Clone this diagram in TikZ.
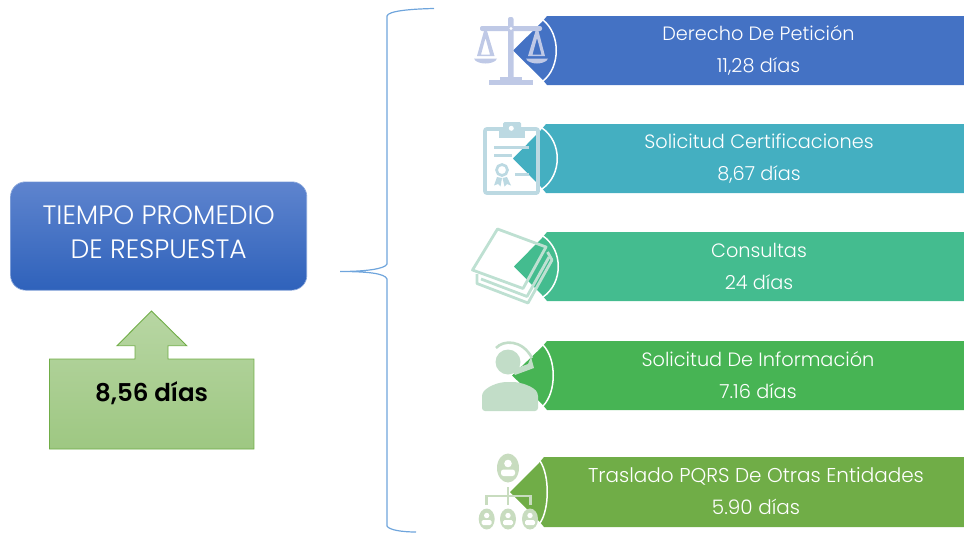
\documentclass[tikz,border=0pt]{standalone}
\usepackage{fontspec}
\setmainfont{Poppins Light}
\newfontfamily\boldf{Poppins SemiBold}
\usetikzlibrary{calc}
\definecolor{cA}{HTML}{4472C4}\definecolor{iA}{HTML}{BFC9E6}
\definecolor{cB}{HTML}{44AFC1}\definecolor{iB}{HTML}{BCD9E2}
\definecolor{cC}{HTML}{44BC8F}\definecolor{iC}{HTML}{BEE0D2}
\definecolor{cD}{HTML}{47B454}\definecolor{iD}{HTML}{C2DDC8}
\definecolor{cE}{HTML}{70AD47}\definecolor{iE}{HTML}{C8DCBF}
\definecolor{braceblue}{HTML}{6FA5DC}
\definecolor{mainTop}{HTML}{5E84CE}
\definecolor{mainBot}{HTML}{2F62BB}
\tikzset{
  rowtext/.style={text=white,font=\fontsize{19.3}{32}\selectfont,align=center,inner sep=0pt},
  bracket/.style={draw=braceblue,line width=1.2pt},
}
% #1 colour #2 top #3 bottom #4 tip x #5 corner x #6 bulge x
\newcommand{\ribbon}[6]{%
  \pgfmathsetmacro\midy{(#2+#3)/2}%
  \fill[#1] (#4,-\midy) -- (#5,-#2-6) -- (#5+5,-#2) -- (964,-#2) -- (964,-#3) -- (#5+5,-#3) -- (#5,-#3+6) -- cycle;
  \pgfmathsetmacro\cx{#5+(#6-#5)*4/3}%
  \draw[white,line width=1.5pt] (#5+1,-#2-4) .. controls (\cx,-#2-18) and (\cx,-#3+18) .. (#5+1,-#3+4);
}
\begin{document}
\begin{tikzpicture}[x=1pt,y=1pt]
\useasboundingbox (0,0) rectangle (964,-533);
% main box
\node[rounded corners=15pt,minimum width=296pt,minimum height=108pt,top color=mainTop,bottom color=mainBot,inner sep=0pt] (main) at (158.7,-236) {};
\draw[cA!70!white,line width=.6pt,rounded corners=15pt] (main.north west) rectangle (main.south east);
\node[inner sep=0pt,text=white,align=center,font=\fontsize{26.6}{34}\selectfont] (maintext) at (158.7,-232) {TIEMPO PROMEDIO\\DE RESPUESTA};
% green callout
\path[draw=cE,line width=.9pt,top color=cE!50!white,bottom color=cE!68!white] (49.5,-359) -- (135,-359) -- (135,-345.7) -- (117,-345.7) -- (151.5,-311) -- (186.7,-345.7) -- (168,-345.7) -- (168,-359) -- (254,-359) -- (254,-449) -- (49.5,-449) -- cycle;
\node[inner sep=0pt,font=\boldf\fontsize{24.5}{28}\selectfont] (avg) at (151.5,-393) {8,56 días};
% brace
\coordinate (bt) at (434,-8.5);\coordinate (bm) at (340,-271.5);\coordinate (bb) at (416,-532);
\draw[bracket] (bt) .. controls (410,-9) and (388,-11) .. (387,-16) -- (387,-264) .. controls (385,-269) and (365,-271.5) .. (bm) .. controls (365,-271.5) and (385,-273) .. (387,-279) -- (387,-526) .. controls (389,-530) and (402,-532) .. (bb);
% ribbons
\ribbon{cA}{16}{85}{513}{542}{556}
\ribbon{cB}{124}{193}{513}{541}{557}
\ribbon{cC}{232}{301}{514}{542}{558}
\ribbon{cD}{341}{410}{512}{542}{553}
\ribbon{cE}{457}{527}{510}{539}{547}
% icon 1: scales
\begin{scope}[iA]
\fill[rounded corners=2pt] (508,-84) -- (508,-17) -- (513.5,-17) -- (513.5,-84) -- cycle;
\fill[rounded corners=2pt] (480,-26) rectangle (542,-31);
\fill (489,-80) rectangle (533,-85);
\fill (500,-77) rectangle (522,-80);
\fill[white] (511,-28.5) circle (1.6);
\fill (474,-58.5) -- (497,-58.5) .. controls (496,-62) and (490,-63.5) .. (485.5,-63.5) .. controls (481,-63.5) and (475,-62) .. (474,-58.5) -- cycle;
\fill (526,-58.5) -- (548,-58.5) .. controls (547,-62) and (541,-63.5) .. (537,-63.5) .. controls (533,-63.5) and (527,-62) .. (526,-58.5) -- cycle;
\fill[even odd rule] (484,-31) -- (487,-31) -- (494.5,-56) -- (477,-56) -- cycle (485.5,-38) -- (481,-54.5) -- (490,-54.5) -- cycle;
\fill[even odd rule] (535.5,-31) -- (538.5,-31) -- (545,-56) -- (528,-56) -- cycle (537,-38) -- (532.5,-54.5) -- (541.5,-54.5) -- cycle;
\end{scope}
% icon 2: certificate
\begin{scope}[iB]
\draw[line width=3.8pt,rounded corners=2pt] (485,-129) rectangle (538,-193);
\fill[rounded corners=1.5pt] (503,-122) rectangle (521,-134);
\fill (498.5,-131) rectangle (525,-138);
\fill[white] (511.3,-128.3) circle (2.5);
\fill (494,-146) rectangle (529,-149);
\fill (494,-154) rectangle (512,-156.5);
\fill (515,-173) rectangle (529,-175.5);
\draw[line width=2.7pt] (502,-170) circle (5.5);
\fill (497,-177) -- (494,-185.5) -- (498,-184) -- (500.5,-186.5) -- (502,-178) -- cycle;
\fill (507,-177) -- (511,-185.5) -- (507,-184) -- (504.5,-186.5) -- (502.5,-178) -- cycle;
\end{scope}
% icon 3: papers
\begin{scope}[iC,line width=2.8pt,line join=round]
\draw (497.5,-229) -- (546,-247) -- (523,-288.5) -- (472.5,-270) -- cycle;
\draw (477,-274) -- (477,-283.5) -- (528,-303) -- (552,-260) -- (547.5,-252);
\draw (481,-279) -- (527,-296.5) -- (549,-257);
\end{scope}
% icon 4: headset person
\begin{scope}[iD]
\fill (508,-362) circle (12.5);
\draw[line width=2.6pt] (496,-348) .. controls (503,-340) and (522,-339) .. (532,-358);
\fill (531,-357) -- (534,-368) -- (515,-375) -- (512,-370) -- (528,-364) -- cycle;
\fill[rounded corners=3pt] (482,-411) -- (482,-393) .. controls (490,-385) and (500,-382) .. (510,-382) .. controls (520,-382) and (532,-386) .. (538,-393) -- (538,-411) -- cycle;
\end{scope}
% icon 5: org chart
\begin{scope}[iE]
\fill (508,-468) ellipse (11 and 14.5);
\fill[white] (508,-463.5) circle (3.8);
\fill[white,rounded corners=2.5pt] (501,-476) rectangle (515,-469.5) ;
\foreach \px in {486.7,508,530}{
  \fill (\px,-519) ellipse (8 and 10.5);
  \fill[white] (\px,-515.5) circle (2.7);
  \fill[white,rounded corners=1.5pt] (\px-5,-525) rectangle (\px+5,-520);
}
\fill (506.6,-487) rectangle (509.4,-505);
\fill (485.3,-494.5) rectangle (531.5,-497.3);
\fill (485.3,-494.5) rectangle (488,-505);
\fill (528.7,-494.5) rectangle (531.5,-505);
\end{scope}
% texts
\node[rowtext] (t1) at (758.5,-50.5) {Derecho De Petición\\11,28 días};
\node[rowtext] (t2) at (759,-158.5) {Solicitud Certificaciones\\8,67 días};
\node[rowtext] (t3) at (759,-266) {Consultas\\24 días};
\node[rowtext] (t4) at (758,-375) {Solicitud De Información\\7.16 días};
\node[rowtext,font=\fontsize{20}{32}\selectfont] (t5) at (756,-491.5) {Traslado PQRS De Otras Entidades\\5.90 días};
\end{tikzpicture}
\end{document}
